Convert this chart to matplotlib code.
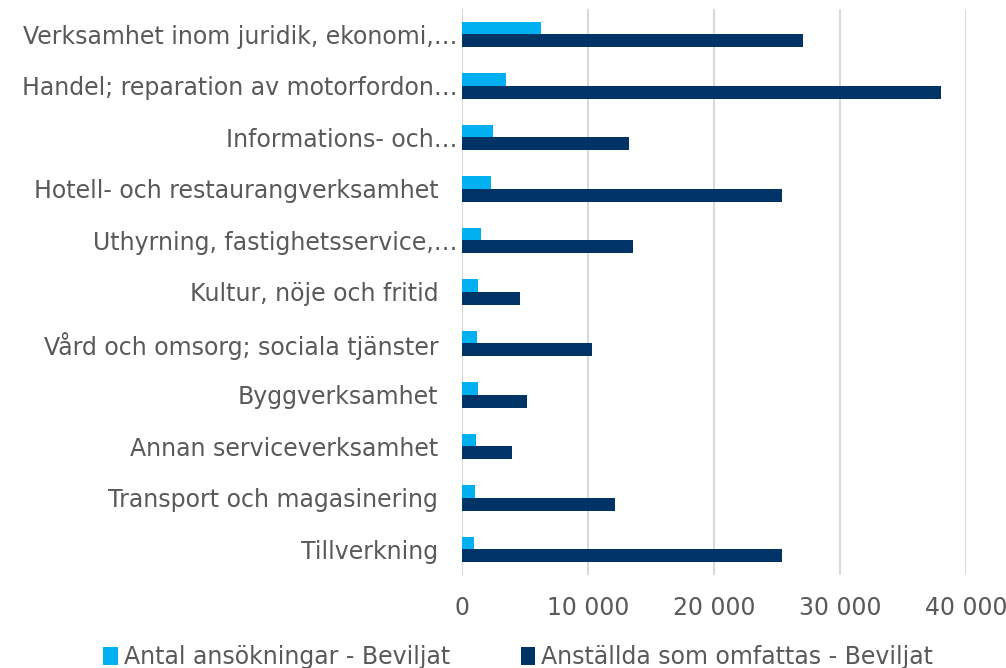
import matplotlib.pyplot as plt
import matplotlib.transforms as mtransforms
from matplotlib.ticker import FuncFormatter
import numpy as np

# categories top to bottom
categories = [
    "Verksamhet inom juridik, ekonomi,…",
    "Handel; reparation av motorfordon…",
    "Informations- och…",
    "Hotell- och restaurangverksamhet",
    "Uthyrning, fastighetsservice,…",
    "Kultur, nöje och fritid",
    "Vård och omsorg; sociala tjänster",
    "Byggverksamhet",
    "Annan serviceverksamhet",
    "Transport och magasinering",
    "Tillverkning",
]
antal_ansokningar = [6290, 3480, 2450, 2310, 1530, 1250, 1225, 1280, 1170, 1060, 950]
anstallda = [27100, 38000, 13260, 25400, 13570, 4650, 10310, 5210, 3980, 12140, 25400]
x_ticks = [0, 10000, 20000, 30000, 40000]

c_light = "#00B0F0"
c_dark = "#003366"
grey_txt = "#595959"

fig = plt.figure(figsize=(10.06, 6.68), dpi=100)
ax = fig.add_axes([0.459, 0.139, 0.501, 0.848])

y = np.arange(len(categories))
h = 0.25
ax.barh(y - h / 2, antal_ansokningar, height=h, color=c_light,
        label="Antal ansökningar - Beviljat", zorder=3)
ax.barh(y + h / 2, anstallda, height=h, color=c_dark,
        label="Anställda som omfattas - Beviljat", zorder=3)

ax.set_ylim(len(categories) - 0.5, -0.5)
ax.set_xlim(0, 40000)
ax.set_xticks(x_ticks)
ax.xaxis.set_major_formatter(FuncFormatter(lambda v, p: f"{int(v):,}".replace(",", " ")))
ax.set_yticks(y)
ax.set_yticklabels(categories)

ax.grid(axis="x", color="#D9D9D9", linewidth=1.5, zorder=0)
ax.grid(axis="y", visible=False)
for s in ax.spines.values():
    s.set_visible(False)
ax.tick_params(axis="both", length=0, labelsize=17, labelcolor=grey_txt)
ax.tick_params(axis="y", pad=17)
ax.tick_params(axis="x", pad=15)

# truncated labels sit closer to the axis
for lab in ax.get_yticklabels():
    if lab.get_text().endswith("…"):
        lab.set_transform(lab.get_transform() + mtransforms.ScaledTranslation(19 / 100, 0, fig.dpi_scale_trans))

leg = fig.legend(loc="lower center", bbox_to_anchor=(0.515, -0.033), ncol=2, frameon=False,
                 fontsize=17, handlelength=0.6, handleheight=0.8, handletextpad=0.25,
                 columnspacing=3.0)
for t in leg.get_texts():
    t.set_color(grey_txt)

fig.savefig("out.png", dpi=100)
